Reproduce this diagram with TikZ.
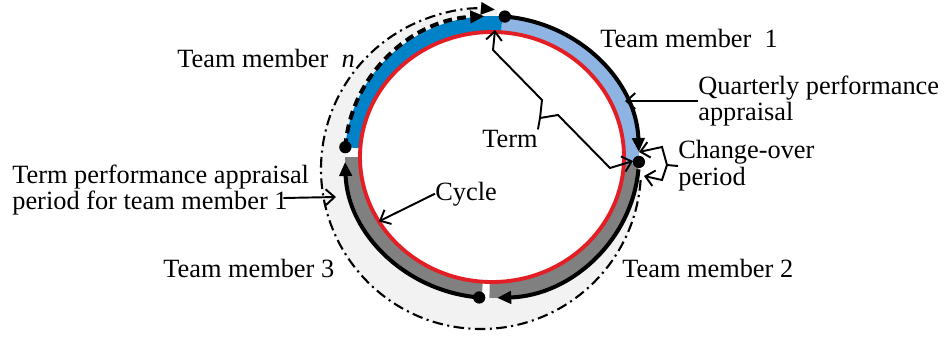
\documentclass[tikz,border=0pt]{standalone}
\usepackage{fontspec}
\setmainfont{Liberation Serif}
\usepackage{tikz}
\usetikzlibrary{arrows.meta}
\definecolor{lightband}{RGB}{141,180,226}
\definecolor{darkband}{RGB}{0,130,200}
\definecolor{greyband}{RGB}{128,128,128}
\definecolor{palegrey}{RGB}{242,242,242}
\definecolor{cyclered}{RGB}{227,30,36}

\begin{document}
\begin{tikzpicture}[x=0.02cm, y=0.02cm,
  lbl/.style={font=\fontsize{15}{15.3}\selectfont, inner sep=0pt, align=left},
  ann/.style={-{Straight Barb[length=5pt,width=9pt]}, line width=1.1pt},
  member/.style={-{Triangle[length=8pt,width=7pt]}, line width=2.3pt},
  dot/.style={circle, fill, inner sep=0pt, minimum size=7pt}
]
  \useasboundingbox (0,0) rectangle (944,-336);
  \begin{scope}[shift={(492,-157)}]
    \fill[palegrey] (-11,-12) -- ++(84:160) arc[start angle=84, end angle=356, radius=160] -- cycle;
    \fill[white] (0,0) ellipse[x radius=147, y radius=141];
    \fill[lightband] (86:147 and 141) arc[start angle=86, end angle=-3, x radius=147, y radius=141]
      -- (-3:132 and 125) arc[start angle=-3, end angle=86, x radius=132, y radius=125] -- cycle;
    \fill[greyband] (-3:147 and 141) arc[start angle=-3, end angle=-91, x radius=147, y radius=141]
      -- (-91:132 and 125) arc[start angle=-91, end angle=-3, x radius=132, y radius=125] -- cycle;
    \fill[greyband] (-94:147 and 141) arc[start angle=-94, end angle=-180, x radius=147, y radius=141]
      -- (-180:132 and 125) arc[start angle=-180, end angle=-94, x radius=132, y radius=125] -- cycle;
    \fill[darkband] (176:147 and 141) arc[start angle=176, end angle=86, x radius=147, y radius=141]
      -- (86:132 and 125) arc[start angle=86, end angle=176, x radius=132, y radius=125] -- cycle;
    \draw[cyclered, line width=2.2pt] (0,0) ellipse[x radius=132, y radius=125];
    \draw[member] (85:147 and 141) arc[start angle=85, end angle=2, x radius=147, y radius=141];
    \draw[member] (-5:147 and 141) arc[start angle=-5, end angle=-88, x radius=147, y radius=141];
    \draw[member] (-95:147 and 141) arc[start angle=-95, end angle=-178, x radius=147, y radius=141];
    \draw[member, dash pattern=on 5pt off 3pt] (176:147 and 141) arc[start angle=176, end angle=93, x radius=147, y radius=141];
    \draw[-{Triangle[length=8pt,width=7pt]}, line width=1.2pt, dash pattern=on 6pt off 2.5pt on 1.2pt off 2.5pt]
      (-11,-12) ++(-4:160) arc[start angle=-4, end angle=-275, radius=160];
    \node[dot] (top) at (85:147 and 141) {};
    \node[dot] (left) at (176:147 and 141) {};
    \node[dot] (bottom) at (-95:147 and 141) {};
    \node[dot] (change) at (-2:147 and 141) {};
    \coordinate (cyc) at (211:132 and 125);
  \end{scope}

  \node[lbl, anchor=base west] (tm1) at (600,-47) {Team member~ 1};
  \node[lbl, anchor=base west] (tmn) at (177,-67) {Team member~ \textit{n}};
  \node[lbl, anchor=base west] (tm2) at (622,-277) {Team member 2};
  \node[lbl, anchor=base west] (tm3) at (163,-277) {Team member 3};
  \node[lbl, anchor=west] (qpa) at (698,-101) {Quarterly performance\\appraisal};
  \node[lbl, anchor=west] (cop) at (678,-166) {Change-over\\period};
  \node[lbl, anchor=base west] (term) at (482,-147) {Term};
  \node[lbl, anchor=base west] (cycle) at (435,-200) {Cycle};
  \node[lbl, anchor=west] (tpa) at (12,-190) {Term performance appraisal\\period for team member 1};

  \coordinate (qpt) at (625,-101);
  \coordinate (tfork) at (540,-118);
  \coordinate (cfork) at (667,-165);
  \coordinate (tpt) at (336,-197);
  \draw[ann] (qpa.west) -- (qpt);
  \draw[line width=1.1pt] (term.north east) -- (tfork);
  \draw[ann] (tfork) -- (542,-100) -- (493,-50) -- (495,-30);
  \draw[ann] (tfork) -- (558,-115) -- (610,-168) -- (633,-161);
  \draw[line width=1.1pt] (cop.west) -- (cfork);
  \draw[ann] (cfork) -- (662,-147) -- (639,-152);
  \draw[ann] (cfork) -- (662,-180) -- (644,-176);
  \draw[ann] (cycle.west) -- (cyc);
  \draw[ann] ([shift={(-26,-8)}]tpa.east) -- (tpt);
\end{tikzpicture}
\end{document}
